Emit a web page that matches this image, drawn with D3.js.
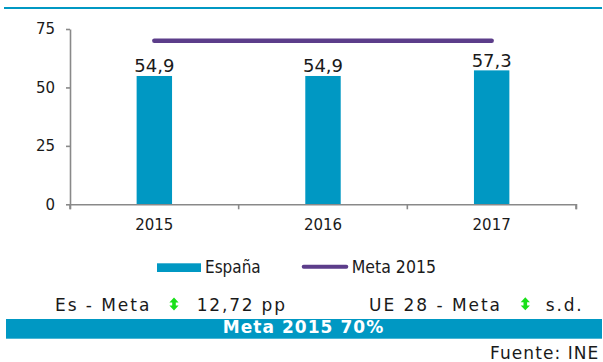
<!DOCTYPE html>
<html>
<head>
<meta charset="utf-8">
<script src="https://cdn.jsdelivr.net/npm/d3@7"></script>
<style>
  html, body { margin: 0; padding: 0; background: #fff; }
  svg { display: block; }
  text { font-family: "DejaVu Sans", Verdana, sans-serif; fill: #1a1a1a; }
</style>
</head>
<body>
<svg id="chart" width="603" height="362"></svg>
<script>
// Tasa de empleo 20-64 años: España frente a la meta 2015
const years = ["2015", "2016", "2017"];
const espana = [54.9, 54.9, 57.3];
const meta = [70, 70, 70];
const yTicks = [0, 25, 50, 75];
const valueLabels = ["54,9", "54,9", "57,3"];
const legendLabels = ["España", "Meta 2015"];
const footerRow = ["Es - Meta", "12,72 pp", "UE 28 - Meta", "s.d."];
const bannerText = "Meta 2015 70%";
const sourceText = "Fuente: INE";

const BLUE = "#0098c3";
const PURPLE = "#5c3d8a";
const GREEN = "#19e019";
const AXIS = "#898989";

const svg = d3.select("#chart");

// top rule
svg.append("line")
  .attr("x1", 4).attr("x2", 602).attr("y1", 8).attr("y2", 8)
  .attr("stroke", BLUE).attr("stroke-width", 2);

const x = d3.scaleBand().domain(years).range([70, 576]).padding(0);
const y = d3.scaleLinear().domain([0, 75]).range([204.3, 29]);
const barW = x.bandwidth() * 0.21;

// bars
svg.append("g").selectAll("rect").data(years).join("rect")
  .attr("x", d => x(d) + (x.bandwidth() - barW) / 2)
  .attr("width", barW)
  .attr("y", (d, i) => y(espana[i]))
  .attr("height", (d, i) => y(0) - y(espana[i]))
  .attr("fill", BLUE);

// value labels
svg.append("g").selectAll("text").data(years).join("text")
  .attr("x", d => x(d) + x.bandwidth() / 2)
  .attr("y", (d, i) => y(espana[i]) - 3.7)
  .attr("text-anchor", "middle")
  .style("font-size", "18px")
  .text((d, i) => valueLabels[i]);

// target line
const line = d3.line()
  .x((d, i) => x(years[i]) + x.bandwidth() / 2)
  .y(d => y(d));
svg.append("path").datum(meta)
  .attr("d", line)
  .attr("fill", "none")
  .attr("stroke", PURPLE)
  .attr("stroke-width", 4.5)
  .attr("stroke-linecap", "round");

// y axis
const yAxis = svg.append("g")
  .attr("transform", "translate(70,0)")
  .call(d3.axisLeft(y).tickValues(yTicks).tickSizeInner(4).tickSizeOuter(0).tickPadding(11));
yAxis.selectAll("text").style("font-size", "15px").attr("fill", "#1a1a1a");

// x axis (labels at band centres, ticks on band boundaries)
const xAxis = svg.append("g")
  .attr("transform", `translate(0,${y(0)})`)
  .call(d3.axisBottom(x).tickSizeInner(0).tickSizeOuter(5).tickPadding(15));
xAxis.selectAll("text").style("font-size", "15px").attr("fill", "#1a1a1a");
xAxis.selectAll(".tick line").remove();
const bounds = years.map(d => x(d)).concat([x(years[years.length - 1]) + x.bandwidth()]);
xAxis.selectAll(".bound").data(bounds).join("line")
  .attr("class", "bound")
  .attr("x1", d => d).attr("x2", d => d)
  .attr("y1", 0).attr("y2", 5);

svg.selectAll(".domain, .tick line, .bound")
  .attr("stroke", AXIS).attr("stroke-width", 1.6);

// legend
const leg = svg.append("g");
leg.append("rect").attr("x", 157).attr("y", 263.3).attr("width", 44).attr("height", 8.7).attr("fill", BLUE);
leg.append("text").attr("x", 205).attr("y", 273.3)
  .attr("textLength", 55.7).attr("lengthAdjust", "spacingAndGlyphs")
  .style("font-size", "17px").text(legendLabels[0]);
leg.append("line").attr("x1", 303.7).attr("x2", 346.3).attr("y1", 266.7).attr("y2", 266.7)
  .attr("stroke", PURPLE).attr("stroke-width", 4).attr("stroke-linecap", "round");
leg.append("text").attr("x", 351.7).attr("y", 273.3)
  .attr("textLength", 84.3).attr("lengthAdjust", "spacingAndGlyphs")
  .style("font-size", "17px").text(legendLabels[1]);

// comparison row
const rowPos = [[55, 94.3], [196.7, 88.3], [369, 131], [545.7, 36]];
svg.append("g").selectAll("text").data(footerRow).join("text")
  .attr("x", (d, i) => rowPos[i][0])
  .attr("y", 310.7)
  .attr("textLength", (d, i) => rowPos[i][1])
  .attr("lengthAdjust", "spacing")
  .style("font-size", "17px")
  .text(d => d);

// up/down arrow icons
function arrow(cx, cy) {
  return `M${cx},${cy - 6.5} L${cx + 4.6},${cy - 1.6} L${cx + 1.8},${cy - 1.6} L${cx + 1.8},${cy + 1.6}` +
         ` L${cx + 4.6},${cy + 1.6} L${cx},${cy + 6.5} L${cx - 4.6},${cy + 1.6} L${cx - 1.8},${cy + 1.6}` +
         ` L${cx - 1.8},${cy - 1.6} L${cx - 4.6},${cy - 1.6} Z`;
}
svg.append("g").selectAll("path").data([[174, 304], [525.3, 303.8]]).join("path")
  .attr("d", d => arrow(d[0], d[1]))
  .attr("fill", GREEN);

// banner
svg.append("rect").attr("x", 6).attr("y", 319).attr("width", 596).attr("height", 19.7).attr("fill", BLUE);
svg.append("text").attr("x", 222.7).attr("y", 333.3)
  .attr("textLength", 160.6).attr("lengthAdjust", "spacing")
  .style("font-size", "17px").style("font-weight", "bold").style("fill", "#fff")
  .text(bannerText);

// source
svg.append("text").attr("x", 490).attr("y", 359)
  .attr("textLength", 108.3).attr("lengthAdjust", "spacing")
  .style("font-size", "17px").text(sourceText);
</script>
</body>
</html>
